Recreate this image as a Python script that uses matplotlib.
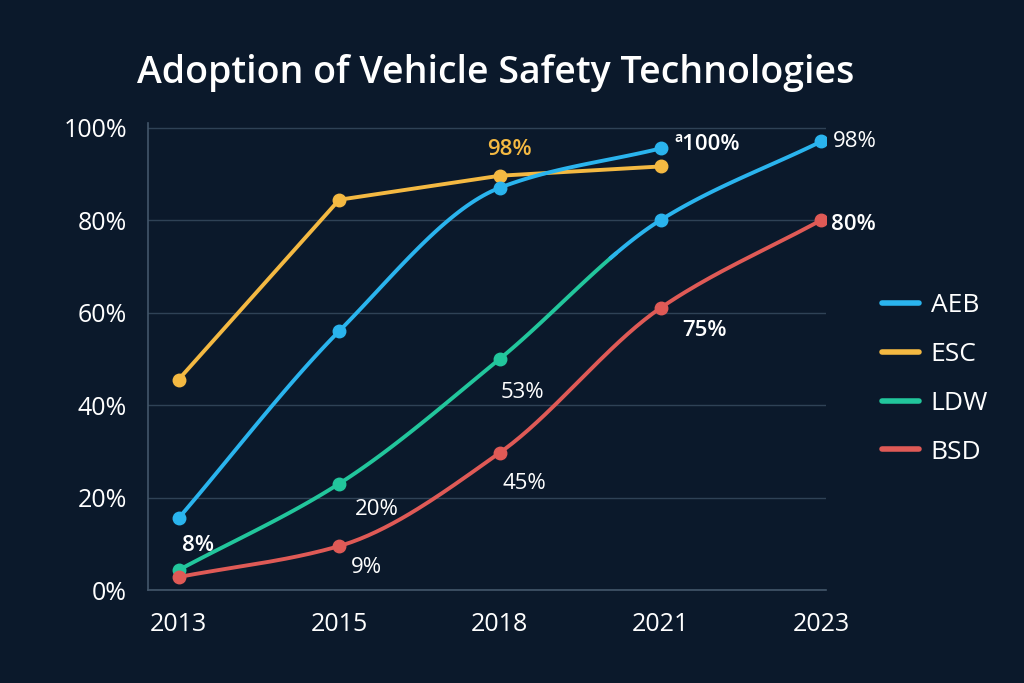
import matplotlib
matplotlib.use("Agg")
import matplotlib.pyplot as plt
import numpy as np
from matplotlib.lines import Line2D

# ─── Data ────────────────────────────────────────────────────────────────────
years = ["2013", "2015", "2018", "2021", "2023"]
aeb = [15.5, 56, 87, 95.5]            # 2013–2021
esc = [45.5, 84.4, 89.6, 91.6]        # 2013–2021
ldw = [4.3, 23, 50, 80, 97]           # tail after ~2020 drawn in AEB colour (as in reference)
bsd = [2.8, 9.5, 29.7, 61, 80]
y_ticks = [0, 20, 40, 60, 80, 100]

# (text, series, index, dx px, dy px, colour, weight, ha)
labels = [
    ("98%", "esc", 2, 10, 26, "#f4b942", "semibold", "center"),
    ("ª100%", "aeb", 3, 47, 4, "white", "semibold", "center"),
    ("98%", "ldw", 4, 12, 0, "white", "normal", "left"),
    ("80%", "bsd", 4, 10, -4, "white", "semibold", "left"),
    ("75%", "bsd", 3, 44, -23, "white", "semibold", "center"),
    ("53%", "ldw", 2, 23, -34, "white", "normal", "center"),
    ("45%", "bsd", 2, 25, -31, "white", "normal", "center"),
    ("20%", "ldw", 1, 38, -26, "white", "normal", "center"),
    ("8%", "ldw", 0, 19, 25, "white", "semibold", "center"),
    ("9%", "bsd", 1, 27, -21, "white", "normal", "center"),
]

BG = "#0b192b"
GRID = "#2f4256"
C_AEB = "#2ab4ee"
C_ESC = "#f4b942"
C_LDW = "#22c69c"
C_BSD = "#df5a56"

plt.rcParams["font.family"] = ["Open Sans", "DejaVu Sans"]


def smooth(y, n=40):
    """Monotone cubic (Fritsch–Carlson) through points at x = 0..len-1."""
    y = np.asarray(y, dtype=float)
    x = np.arange(len(y), dtype=float)
    d = np.diff(y)
    m = np.zeros_like(y)
    m[0], m[-1] = d[0], d[-1]
    for i in range(1, len(y) - 1):
        m[i] = 0 if d[i - 1] * d[i] <= 0 else 2 / (1 / d[i - 1] + 1 / d[i])
    xs, ys = [], []
    for i in range(len(y) - 1):
        t = np.linspace(0, 1, n)
        h00 = 2 * t**3 - 3 * t**2 + 1
        h10 = t**3 - 2 * t**2 + t
        h01 = -2 * t**3 + 3 * t**2
        h11 = t**3 - t**2
        xs.append(x[i] + t)
        ys.append(h00 * y[i] + h10 * m[i] + h01 * y[i + 1] + h11 * m[i + 1])
    return np.concatenate(xs), np.concatenate(ys)


fig = plt.figure(figsize=(10.24, 6.83), dpi=100, facecolor=BG)
ax = fig.add_axes([148 / 1024, 1 - 590 / 683, (826 - 148) / 1024, (590 - 123) / 683])
ax.set_facecolor(BG)

lw = 2.8
ms = 9

# ESC – straight segments
ax.plot(range(len(esc)), esc, color=C_ESC, lw=lw, marker="o", ms=ms, zorder=3)

# AEB
sx, sy = smooth(aeb)
ax.plot(sx, sy, color=C_AEB, lw=lw, zorder=4, solid_capstyle="round")
ax.plot(range(len(aeb)), aeb, "o", color=C_AEB, ms=ms, zorder=5)

# LDW (green until ~2.7, then blue)
sx, sy = smooth(ldw)
green = sx <= 2.72
blue = sx >= 2.68
ax.plot(sx[green], sy[green], color=C_LDW, lw=lw, zorder=4)
ax.plot(sx[blue], sy[blue], color=C_AEB, lw=lw, zorder=4.5)
ax.plot(range(3), ldw[:3], "o", color=C_LDW, ms=ms, zorder=5)
ax.plot(range(3, len(ldw)), ldw[3:], "o", color=C_AEB, ms=ms, zorder=5)

# BSD
sx, sy = smooth(bsd)
ax.plot(sx, sy, color=C_BSD, lw=lw, zorder=4)
ax.plot(range(len(bsd)), bsd, "o", color=C_BSD, ms=ms, zorder=5)

series = {"aeb": aeb, "esc": esc, "ldw": ldw, "bsd": bsd}
for text, key, i, dx, dy, col, wt, ha in labels:
    ax.annotate(text, (i, series[key][i]), xytext=(dx * 0.72, dy * 0.72),
                textcoords="offset points", ha=ha, va="center",
                color=col, fontsize=16, fontweight=wt, zorder=6)

ax.set_xlim(-0.19, 4.03)
ax.set_ylim(0, 101)
ax.set_xticks(range(len(years)))
ax.set_xticklabels(years)
ax.set_yticks(y_ticks)
ax.set_yticklabels([f"{v}%" for v in y_ticks])
ax.tick_params(colors="white", labelsize=18, length=0)
ax.tick_params(axis="y", pad=15)
ax.tick_params(axis="x", pad=16)
ax.grid(axis="y", color=GRID, lw=1)
ax.set_axisbelow(True)
for s in ["top", "right"]:
    ax.spines[s].set_visible(False)
for s in ["left", "bottom"]:
    ax.spines[s].set_color("#43566a")
    ax.spines[s].set_linewidth(1.2)

fig.text(496 / 1024, 1 - 73 / 683, "Adoption of Vehicle Safety Technologies",
         ha="center", va="center", color="white", fontsize=27, fontweight="semibold")

handles = [Line2D([], [], color=c, lw=4, solid_capstyle="round")
           for c in (C_AEB, C_ESC, C_LDW, C_BSD)]
leg = fig.legend(handles, ["AEB", "ESC", "LDW", "BSD"], loc="center left",
                 bbox_to_anchor=(858 / 1024, 1 - 379 / 683), frameon=False,
                 fontsize=19, labelcolor="white", handlelength=1.4,
                 handletextpad=0.45, labelspacing=0.9)

fig.savefig("out.png", dpi=100, facecolor=BG)
